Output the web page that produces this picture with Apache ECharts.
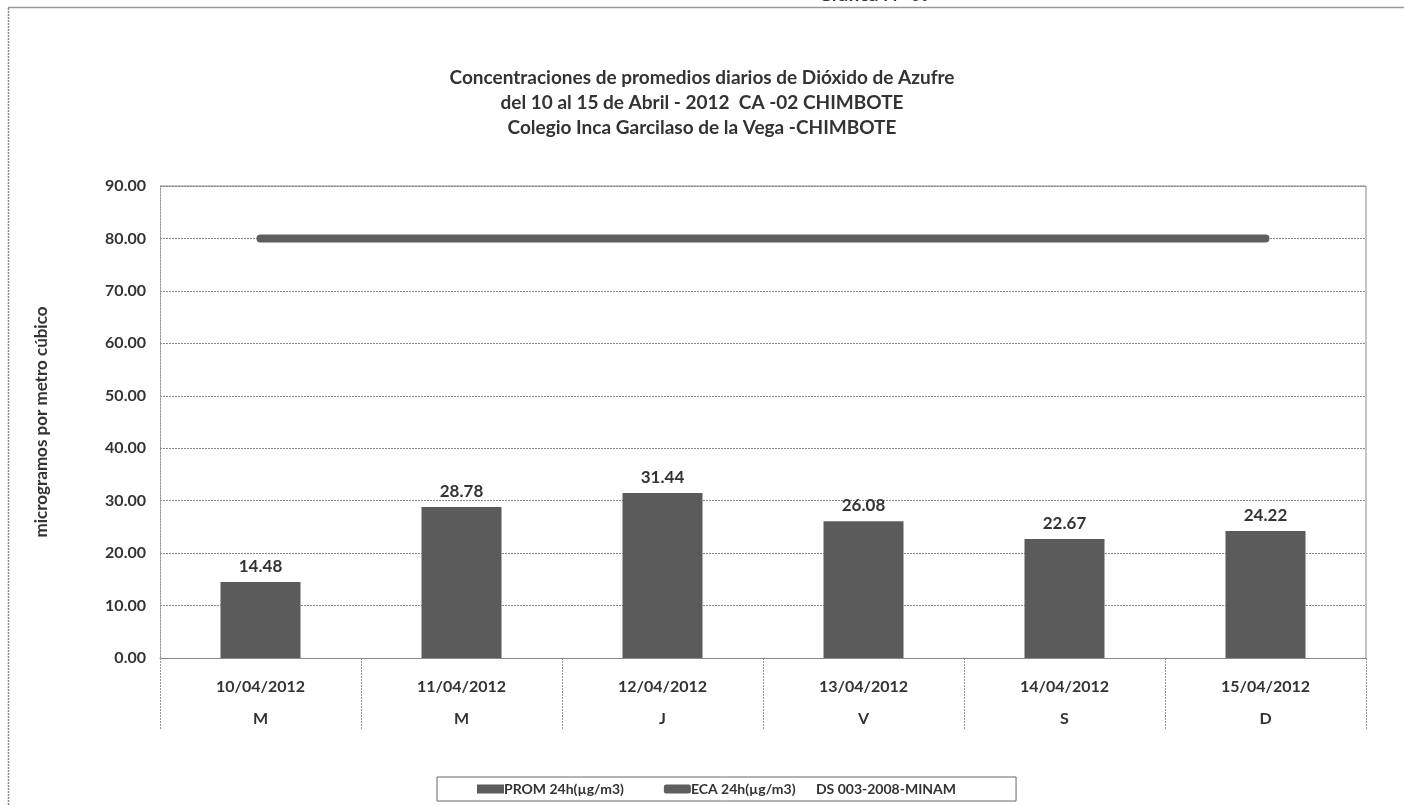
<!DOCTYPE html>
<html>
<head>
<meta charset="utf-8">
<script src="https://cdn.jsdelivr.net/npm/echarts@6/dist/echarts.min.js"></script>
<style>html,body{margin:0;padding:0;background:#fff;}#c{width:1404px;height:806px;}</style>
</head>
<body>
<div id="c"></div>
<script>
const dates = ['10/04/2012','11/04/2012','12/04/2012','13/04/2012','14/04/2012','15/04/2012'];
const days = ['M','M','J','V','S','D'];
const prom = [14.48, 28.78, 31.44, 26.08, 22.67, 24.22];
const eca = [80, 80, 80, 80, 80, 80];
const yTicks = [0, 10, 20, 30, 40, 50, 60, 70, 80, 90];
const titleLines = ['Concentraciones de promedios diarios de Dióxido de Azufre','del 10 al 15 de Abril - 2012  CA -02 CHIMBOTE','Colegio Inca Garcilaso de la Vega -CHIMBOTE'];
const seriesNames = ['PROM 24h(µg/m3)', 'ECA 24h(µg/m3)      DS 003-2008-MINAM'];

const FONT = 'Lato';
const chart = echarts.init(document.getElementById('c'), null, {renderer: 'canvas'});
const cats = dates.map((d, i) => d + '\n' + days[i]);

chart.setOption({
  backgroundColor: '#fff',
  textStyle: {fontFamily: FONT},
  title: {
    text: titleLines.join('\n'),
    left: 'center', top: 60,
    textStyle: {fontFamily: FONT, fontWeight: 'bold', fontSize: 19, color: '#333', lineHeight: 25}
  },
  graphic: [
    {type: 'line', shape: {x1: 8, y1: 7.5, x2: 1404, y2: 7.5}, style: {stroke: '#999', lineWidth: 1.5}},
    {type: 'line', shape: {x1: 8.5, y1: 8, x2: 8.5, y2: 806}, style: {stroke: '#888', lineWidth: 1.5, lineDash: [2, 1]}},
    {type: 'text', left: 818, top: -15, style: {text: 'Gráfica N° 09', font: 'bold 19px Lato', fill: '#333'}},
    {type: 'line', shape: {x1: 160, y1: 186, x2: 1366, y2: 186}, style: {stroke: '#888', lineWidth: 1}},
    {type: 'line', shape: {x1: 1366, y1: 186, x2: 1366, y2: 658}, style: {stroke: '#888', lineWidth: 1}}
  ],
  legend: {
    data: [
      {name: seriesNames[0], icon: 'rect'},
      {name: seriesNames[1], icon: 'roundRect'}
    ],
    left: 437, top: 777,
    itemWidth: 27, itemHeight: 9, itemGap: 40,
    borderColor: '#666', borderWidth: 1,
    padding: [5, 60, 5, 40],
    textStyle: {fontFamily: FONT, fontSize: 14, color: '#333', fontWeight: 'bold', padding: [0, 0, 0, -5]}
  },
  grid: {left: 160, right: 38, top: 186, bottom: 148, containLabel: false},
  xAxis: {
    type: 'category', data: cats,
    axisLine: {show: true, lineStyle: {color: '#888', width: 1}},
    axisTick: {show: true, interval: 0, length: 72, lineStyle: {color: '#999', type: [2, 1]}},
    axisLabel: {
      interval: 0, fontFamily: FONT, fontSize: 16, fontWeight: 'bold', color: '#333',
      lineHeight: 32, margin: 13
    }
  },
  yAxis: {
    type: 'value', min: 0, max: 90, interval: 10,
    name: 'microgramos por metro cúbico', nameLocation: 'middle', nameGap: 110, nameRotate: 90,
    nameTextStyle: {fontFamily: FONT, fontSize: 17, fontWeight: 'bold', color: '#333'},
    axisLine: {show: true, lineStyle: {color: '#999', type: [2, 1]}},
    axisTick: {show: false},
    axisLabel: {formatter: v => v.toFixed(2), fontFamily: FONT, fontSize: 16, fontWeight: 'bold', color: '#333', margin: 14},
    splitLine: {show: true, lineStyle: {color: '#888', type: [2, 1]}}
  },
  series: [
    {
      name: seriesNames[0], type: 'bar', data: prom, barWidth: 80,
      itemStyle: {color: '#5b5b5b'},
      label: {show: true, position: 'top', distance: 7, formatter: p => p.value.toFixed(2),
        fontFamily: FONT, fontSize: 17, fontWeight: 'bold', color: '#333'},
      z: 2
    },
    {
      name: seriesNames[1], type: 'line', data: eca, symbol: 'none',
      lineStyle: {color: '#5e5e5e', width: 8, cap: 'round'},
      itemStyle: {color: '#5e5e5e'},
      z: 3
    }
  ]
});
</script>
</body>
</html>
